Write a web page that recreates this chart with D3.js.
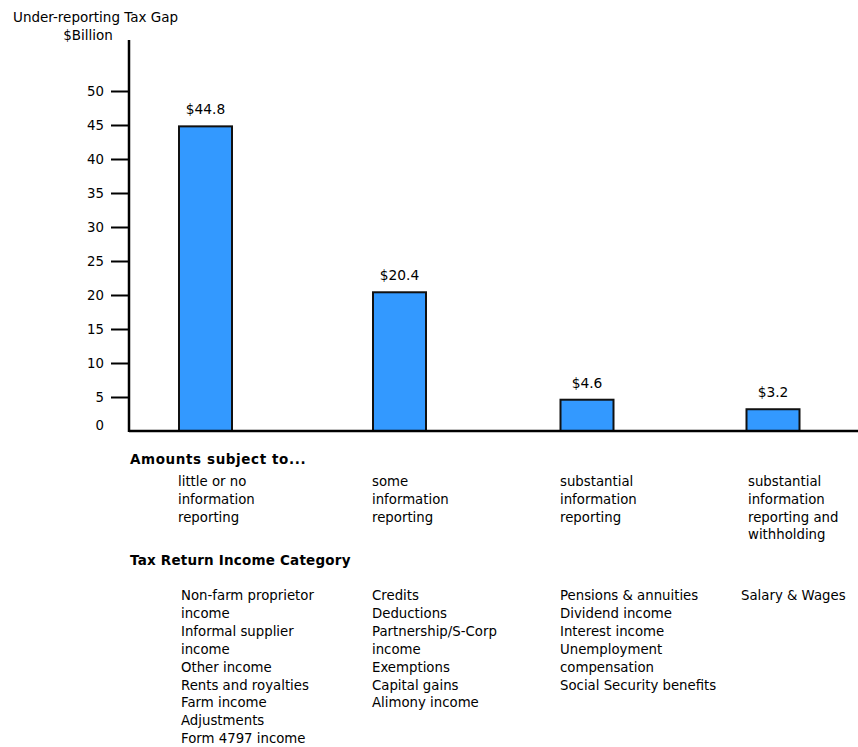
<!DOCTYPE html>
<html>
<head>
<meta charset="utf-8">
<script src="https://cdn.jsdelivr.net/npm/d3@7"></script>
<style>
  body { margin: 0; background: #fff; }
  text { font-family: "DejaVu Sans", Verdana, sans-serif; fill: #000; }
</style>
</head>
<body>
<div class="chart"></div>
<script>
const svgWidth = 858
const svgHeight = 747

// data
const categories = ["little", "some", "substantial", "withholding"]
const gapValues = [44.8, 20.4, 4.6, 3.2]
const valueLabels = ["$44.8", "$20.4", "$4.6", "$3.2"]
const yTicks = [0, 5, 10, 15, 20, 25, 30, 35, 40, 45, 50]

const reportingLabels = [
  ["little or no", "information", "reporting"],
  ["some", "information", "reporting"],
  ["substantial", "information", "reporting"],
  ["substantial", "information", "reporting and", "withholding"]
]

const incomeLabels = [
  ["Non-farm proprietor", "income", "Informal supplier", "income", "Other income",
   "Rents and royalties", "Farm income", "Adjustments", "Form 4797 income"],
  ["Credits", "Deductions", "Partnership/S-Corp", "income", "Exemptions",
   "Capital gains", "Alimony income"],
  ["Pensions & annuities", "Dividend income", "Interest income", "Unemployment",
   "compensation", "Social Security benefits"],
  ["Salary & Wages"]
]

const axisX = 129
const baseY = 431
const barWidth = 53
const fs = "13.3px"

let svg = d3
  .select(".chart")
  .append("svg")
  .attr("width", svgWidth)
  .attr("height", svgHeight)

// bar centres are not evenly spaced in the original
let x = d3.scaleOrdinal()
  .domain(categories)
  .range([205.5, 399.5, 587, 773])

let y = d3.scaleLinear()
  .domain([0, 50])
  .range([baseY, 91])

// title
svg.append("text")
  .attr("x", 13)
  .attr("y", 22)
  .attr("font-size", "13.5px")
  .text("Under-reporting Tax Gap")

svg.append("text")
  .attr("x", 88)
  .attr("y", 40)
  .attr("text-anchor", "middle")
  .attr("font-size", "13.5px")
  .text("$Billion")

// y axis
let leftAxis = d3.axisLeft(y)
  .tickValues(yTicks.filter(d => d > 0))
  .tickSize(18)
  .tickPadding(7)
  .tickFormat(d3.format("d"))

let yAxis = svg.append("g")
  .attr("transform", `translate(${axisX}, 0)`)
  .call(leftAxis)

yAxis.select(".domain").remove()
yAxis.selectAll(".tick line").attr("stroke", "#000").attr("stroke-width", 2)
yAxis.selectAll(".tick text")
  .attr("font-size", fs)
  .attr("font-family", "DejaVu Sans, Verdana, sans-serif")
  .attr("fill", "#000")

// zero label sits a bit above the baseline
svg.append("text")
  .attr("x", 104)
  .attr("y", y(0) - 1)
  .attr("text-anchor", "end")
  .attr("font-size", fs)
  .text(yTicks[0])

svg.append("line")
  .attr("x1", axisX).attr("x2", axisX)
  .attr("y1", y(57.5)).attr("y2", baseY + 1)
  .attr("stroke", "#000")
  .attr("stroke-width", 2.5)

// bars
svg.selectAll("rect.bar")
  .data(gapValues)
  .enter()
  .append("rect")
  .attr("class", "bar")
  .attr("x", (d, i) => x(categories[i]) - barWidth / 2)
  .attr("y", d => y(d))
  .attr("width", barWidth)
  .attr("height", d => baseY - y(d))
  .attr("fill", "#3399ff")
  .attr("stroke", "#111")
  .attr("stroke-width", 2)

svg.selectAll("text.val")
  .data(gapValues)
  .enter()
  .append("text")
  .attr("class", "val")
  .attr("x", (d, i) => x(categories[i]))
  .attr("y", d => y(d) - 12)
  .attr("text-anchor", "middle")
  .attr("font-size", "13.8px")
  .text((d, i) => valueLabels[i])

// baseline
svg.append("line")
  .attr("x1", axisX).attr("x2", svgWidth)
  .attr("y1", baseY).attr("y2", baseY)
  .attr("stroke", "#000")
  .attr("stroke-width", 2.5)

// category captions
svg.append("text")
  .attr("x", 130)
  .attr("y", 464)
  .attr("font-size", "13.5px")
  .attr("font-weight", "bold")
  .attr("letter-spacing", "0.6px")
  .text("Amounts subject to...")

const reportX = [178, 372, 560, 748]
reportingLabels.forEach((lines, i) => {
  let t = svg.append("text")
    .attr("x", reportX[i])
    .attr("y", 486)
    .attr("font-size", fs)
  lines.forEach((l, j) => {
    t.append("tspan")
      .attr("x", reportX[i])
      .attr("dy", j === 0 ? 0 : 17.8)
      .text(l)
  })
})

svg.append("text")
  .attr("x", 130)
  .attr("y", 565)
  .attr("font-size", "13.5px")
  .attr("font-weight", "bold")
  .attr("letter-spacing", "0.2px")
  .text("Tax Return Income Category")

const incomeX = [181, 372, 560, 741]
incomeLabels.forEach((lines, i) => {
  let t = svg.append("text")
    .attr("x", incomeX[i])
    .attr("y", 600)
    .attr("font-size", fs)
  lines.forEach((l, j) => {
    t.append("tspan")
      .attr("x", incomeX[i])
      .attr("dy", j === 0 ? 0 : 17.9)
      .text(l)
  })
})
</script>
</body>
</html>
